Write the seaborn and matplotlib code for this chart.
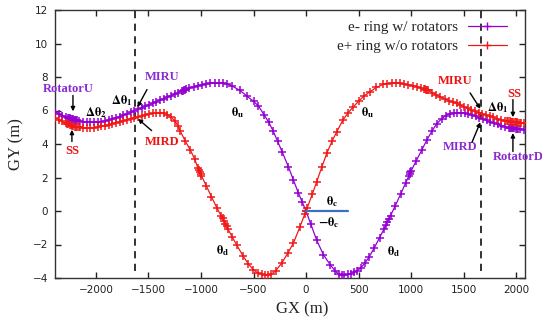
import numpy as np
import pandas as pd
import matplotlib
matplotlib.use("Agg")
import matplotlib.pyplot as plt
import seaborn as sns
from matplotlib.lines import Line2D

# ---------------- data ----------------
purple_x = [-2390, -2355, -2320, -2285, -2268, -2258, -2248, -2238, -2228, -2218, -2208, -2198, -2188, -2178,
            -2160, -2125, -2090, -2055, -2020, -1985, -1950, -1915, -1880, -1845, -1810, -1775, -1740,
            -1705, -1670, -1635, -1600, -1565, -1530, -1495, -1460, -1425, -1390, -1355, -1320, -1285,
            -1250, -1215, -1185, -1175, -1165, -1155, -1145, -1110, -1070, -1030, -990, -950, -910, -870,
            -830, -790, -755, -700, -630, -560, -500, -454, -400, -355, -311, -270, -225, -168, -120,
            -73, -35, 0, 45, 102, 165, 229, 280, 315, 340, 365, 395, 425, 455, 483, 520, 560, 600, 650,
            700, 745, 760, 775, 790, 805, 850, 900, 950, 978, 986, 994, 1002, 1050, 1100, 1149, 1200,
            1244, 1290, 1330, 1371, 1405, 1440, 1475, 1510, 1545, 1580, 1615, 1650, 1685, 1720, 1755,
            1790, 1825, 1860, 1895, 1935, 1945, 1955, 1965, 1975, 1985, 1995, 2005, 2015, 2040, 2075, 2100]
purple_y = [5.90, 5.80, 5.70, 5.62, 5.58, 5.56, 5.54, 5.52, 5.50, 5.48, 5.46, 5.44, 5.42, 5.41,
            5.38, 5.34, 5.31, 5.30, 5.30, 5.31, 5.33, 5.37, 5.42, 5.48, 5.55, 5.63, 5.71,
            5.80, 5.89, 5.98, 6.07, 6.16, 6.25, 6.34, 6.43, 6.52, 6.61, 6.70, 6.79, 6.88,
            6.97, 7.06, 7.14, 7.17, 7.20, 7.23, 7.26, 7.34, 7.42, 7.49, 7.55, 7.59, 7.62, 7.63,
            7.63, 7.62, 7.60, 7.45, 7.20, 6.85, 6.55, 6.28, 5.75, 5.30, 4.75, 4.15, 3.50, 2.64, 1.85,
            1.08, 0.52, 0.00, -0.78, -1.75, -2.60, -3.20, -3.60, -3.78, -3.83, -3.82, -3.79, -3.74, -3.66, -3.58, -3.40, -3.12, -2.75, -2.20,
            -1.60, -1.05, -0.85, -0.65, -0.46, -0.27, 0.32, 1.00, 1.70, 2.08, 2.19, 2.30, 2.41, 3.00, 3.62, 4.22, 4.78,
            5.20, 5.50, 5.70, 5.82, 5.86, 5.87, 5.87, 5.85, 5.80, 5.73, 5.65, 5.57, 5.49, 5.41, 5.33,
            5.25, 5.17, 5.10, 5.04, 4.98, 4.97, 4.96, 4.95, 4.94, 4.93, 4.92, 4.91, 4.90, 4.88, 4.86, 4.85]

red_x = [-2390, -2355, -2320, -2290, -2275, -2262, -2250, -2238, -2226, -2214, -2202, -2190, -2178, -2166, -2155,
         -2125, -2090, -2055, -2020, -1985, -1950, -1915, -1880, -1845, -1810, -1775, -1740, -1705, -1670,
         -1635, -1600, -1565, -1530, -1495, -1460, -1425, -1390, -1355, -1320, -1285, -1250, -1220, -1200,
         -1150, -1100, -1060, -1028, -1020, -1012, -1004, -996, -950, -900, -850, -808, -795, -782, -769,
         -756, -743, -700, -660, -600, -550, -502, -460, -420, -390, -360, -330, -290, -230, -170, -121,
         -60, -10, 0, 10, 60, 100, 149, 200, 250, 292, 350, 400, 451, 500, 555, 610, 670, 736, 775, 815,
         855, 895, 935, 975, 1015, 1055, 1095, 1120, 1130, 1140, 1150, 1160, 1200, 1240, 1280, 1320, 1360,
         1400, 1435, 1470, 1505, 1540, 1575, 1610, 1645, 1680, 1715, 1750, 1785, 1820, 1855, 1890, 1915,
         1927, 1939, 1951, 1963, 1975, 1987, 1999, 2011, 2023, 2035, 2047, 2075, 2100]
red_y = [5.55, 5.45, 5.35, 5.26, 5.22, 5.18, 5.14, 5.11, 5.08, 5.06, 5.04, 5.02, 5.01, 5.00, 4.99,
         4.96, 4.95, 4.96, 4.98, 5.01, 5.05, 5.10, 5.15, 5.21, 5.27, 5.33, 5.39, 5.45, 5.51,
         5.57, 5.63, 5.69, 5.75, 5.80, 5.83, 5.85, 5.85, 5.83, 5.76, 5.60, 5.38, 5.10, 4.80,
         4.18, 3.62, 3.10, 2.55, 2.44, 2.33, 2.22, 2.11, 1.50, 0.85, 0.20, -0.28, -0.44, -0.60, -0.76,
         -0.92, -1.08, -1.58, -2.03, -2.68, -3.15, -3.50, -3.70, -3.79, -3.82, -3.82, -3.78, -3.58, -3.10, -2.48, -1.93,
         -0.98, -0.17, 0.00, 0.17, 1.00, 1.72, 2.60, 3.48, 4.20, 4.72, 5.42, 5.86, 6.22, 6.55, 6.88, 7.12, 7.38, 7.56, 7.61, 7.63,
         7.63, 7.62, 7.59, 7.55, 7.49, 7.42, 7.34, 7.29, 7.27, 7.25, 7.22, 7.20, 7.07, 6.93, 6.80, 6.69, 6.59,
         6.50, 6.42, 6.32, 6.22, 6.12, 6.03, 5.95, 5.87, 5.80, 5.73, 5.66, 5.59, 5.52, 5.46, 5.40, 5.38,
         5.36, 5.35, 5.34, 5.33, 5.32, 5.31, 5.30, 5.29, 5.28, 5.27, 5.26, 5.24, 5.23]

series_labels = ["e- ring w/ rotators", "e+ ring w/o rotators"]
series_colors = ["#9400D3", "#F01818"]
dashed_x = [-1630, 1665]
x_ticks = [-2000, -1500, -1000, -500, 0, 500, 1000, 1500, 2000]
y_ticks = [-4, -2, 0, 2, 4, 6, 8, 10, 12]

df = pd.concat([
    pd.DataFrame({"GX": purple_x, "GY": purple_y, "ring": series_labels[0]}),
    pd.DataFrame({"GX": red_x, "GY": red_y, "ring": series_labels[1]}),
], ignore_index=True)

# ---------------- style ----------------
sns.set_style("ticks")
plt.rcParams["font.family"] = ["DejaVu Sans"]
plt.rcParams["mathtext.fontset"] = "stix"

fig = plt.figure(figsize=(5.42, 3.22), dpi=100)
ax = fig.add_axes([55 / 542, 1 - 278 / 322, 470 / 542, 268 / 322])

for lab, col in zip(series_labels, series_colors):
    sub = df[df["ring"] == lab]
    sns.lineplot(data=sub, x="GX", y="GY", sort=False, estimator=None, ax=ax,
                 color=col, lw=0.9, marker="+", markersize=6, markeredgewidth=1.1,
                 markeredgecolor=col, legend=False, zorder=3)

for xv in dashed_x:
    ax.plot([xv, xv], [-3.6, 12], color="#222222", lw=1.3, ls=(0, (4, 3)), zorder=2)

# blue reference line for theta_c
ax.plot([0, 400], [0, 0], color="#3A6FC4", lw=1.6, zorder=4)

ax.set_xlim(-2390, 2085)
ax.set_ylim(-4, 12)
ax.set_xticks(x_ticks)
ax.set_yticks(y_ticks)
ax.tick_params(direction="in", length=4, width=1, top=True, right=True,
               labelsize=7.5, colors="#222222", pad=5)
for s in ax.spines.values():
    s.set_linewidth(1.0)
    s.set_color("#333333")

serif = ["Liberation Serif", "DejaVu Serif"]
ax.set_xlabel("GX (m)", family=serif, fontsize=12)
ax.set_ylabel("GY (m)", family=serif, fontsize=12, labelpad=6)
ax.xaxis.set_label_coords((302 - 55) / 470, -0.088)

# legend
handles = [Line2D([], [], color=c, lw=0.9, marker="+", markersize=6, markeredgewidth=1.0)
           for c in series_colors]
leg = ax.legend(handles, series_labels, loc="upper right", frameon=False, markerfirst=False,
                prop={"family": serif, "size": 11}, handlelength=2.6, handletextpad=0.6,
                labelspacing=0.35, borderaxespad=0.3, bbox_to_anchor=(0.985, 1.0))

purple_txt = "#8A2BD2"
red_txt = "#F01010"
bold = dict(family=serif, fontweight="bold", fontsize=9)

def label(x, y, s, color, **kw):
    ax.text(x, y, s, color=color, ha="center", va="center", zorder=6, **bold, **kw)

def arrow(x0, y0, x1, y1):
    ax.annotate("", xy=(x1, y1), xytext=(x0, y0),
                arrowprops=dict(arrowstyle="-|>", color="black", lw=1.0,
                                mutation_scale=6, shrinkA=0, shrinkB=0), zorder=6)

# left annotations
label(-2262, 7.3, "RotatorU", purple_txt)
arrow(-2219, 6.9, -2219, 5.95)
label(-2229, 3.6, "SS", red_txt)
arrow(-2229, 4.15, -2229, 4.85)
label(-2000, 5.85, r"$\mathbf{\Delta\theta_2}$", "black")
label(-1752, 6.6, r"$\mathbf{\Delta\theta_1}$", "black")
label(-1371, 8.0, "MIRU", purple_txt)
arrow(-1514, 7.25, -1605, 6.2)
label(-1371, 4.12, "MIRD", red_txt)
arrow(-1470, 4.8, -1600, 5.5)

# right annotations
label(1419, 7.76, "MIRU", red_txt)
arrow(1562, 7.05, 1660, 6.1)
label(1829, 6.2, r"$\mathbf{\Delta\theta_1}$", "black")
label(1981, 6.98, "SS", red_txt)
arrow(1970, 6.65, 1970, 5.6)
label(1467, 3.82, "MIRD", purple_txt)
arrow(1580, 4.1, 1660, 5.3)
ax.text(2019, 3.22, "RotatorD", color=purple_txt, ha="center", va="center",
        zorder=6, clip_on=False, **bold)
arrow(1970, 3.55, 1970, 4.65)

# angle labels
small = dict(family=serif, fontweight="bold", fontsize=9, color="black",
             ha="center", va="center", zorder=6)
ax.text(-648, 5.85, r"$\mathbf{\theta_u}$", **small)
ax.text(590, 5.85, r"$\mathbf{\theta_u}$", **small)
ax.text(-790, -2.35, r"$\mathbf{\theta_d}$", **small)
ax.text(838, -2.45, r"$\mathbf{\theta_d}$", **small)
ax.text(250, 0.55, r"$\mathbf{\theta_c}$", **small)
ax.text(220, -0.72, r"$\mathbf{-\theta_c}$", **small)

fig.savefig("out.png", dpi=100)
